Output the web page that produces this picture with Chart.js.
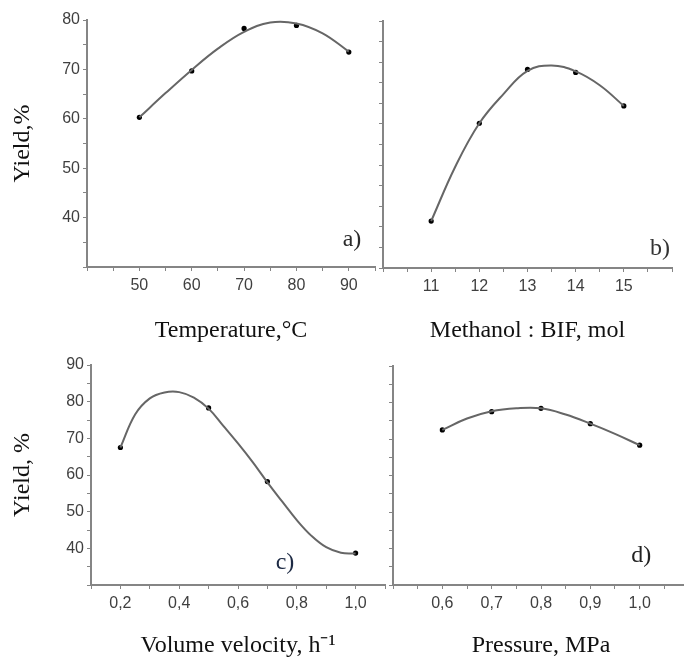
<!DOCTYPE html>
<html>
<head>
<meta charset="utf-8">
<script src="https://cdn.jsdelivr.net/npm/chart.js@4.4.1/dist/chart.umd.min.js"></script>
<style>
  html,body{margin:0;padding:0;background:#fff;}
  body{width:684px;height:660px;overflow:hidden;position:relative;}
  canvas{position:absolute;}
</style>
</head>
<body>
<canvas id="chA" width="380" height="345" style="left:0;top:0"></canvas>
<canvas id="chB" width="314" height="345" style="left:370px;top:0"></canvas>
<canvas id="chC" width="390" height="340" style="left:0;top:320px"></canvas>
<canvas id="chD" width="320" height="340" style="left:380px;top:320px"></canvas>
<script>
// a) temperature
const tempX = [50, 60, 70, 80, 90];
const tempYield = [60.3, 69.7, 78.3, 78.9, 73.5];
const tempFitX = [50, 55, 60, 65, 70, 75, 80, 85, 90];
const tempFitY = [60.3, 65.2, 69.9, 74.2, 77.6, 79.5, 79.3, 77.3, 73.6];
const tempTickLabels = ['50', '60', '70', '80', '90'];

// b) methanol : BIF
const ratioX = [11, 12, 13, 14, 15];
const ratioYield = [39.5, 59.3, 70.2, 69.6, 62.8];
const ratioFitX = [11, 11.5, 12, 12.5, 13, 13.5, 14, 14.5, 15];
const ratioFitY = [39.5, 50.5, 59.3, 65.2, 69.9, 71.0, 69.8, 67.0, 62.8];
const ratioTickLabels = ['11', '12', '13', '14', '15'];

// c) volume velocity
const velX = [0.2, 0.5, 0.7, 1.0];
const velYield = [67.5, 78.3, 58.2, 38.7];
const velFitX = [0.2, 0.25, 0.3, 0.35, 0.4, 0.45, 0.5, 0.55, 0.6, 0.65, 0.7, 0.75, 0.8, 0.85, 0.9, 0.95, 1.0];
const velFitY = [67.5, 76.5, 80.9, 82.5, 82.6, 81.1, 78.1, 73.4, 68.6, 63.5, 58.0, 52.8, 47.7, 43.4, 40.3, 38.8, 38.6];
const velTickValues = [0.2, 0.4, 0.6, 0.8, 1.0];
const velTickLabels = ['0,2', '0,4', '0,6', '0,8', '1,0'];

// d) pressure
const presX = [0.6, 0.7, 0.8, 0.9, 1.0];
const presYield = [72.5, 77.5, 78.4, 74.2, 68.3];
const presFitX = [0.6, 0.65, 0.7, 0.75, 0.8, 0.85, 0.9, 0.95, 1.0];
const presFitY = [72.5, 75.6, 77.6, 78.4, 78.4, 76.7, 74.2, 71.4, 68.3];
const presTickLabels = ['0,6', '0,7', '0,8', '0,9', '1,0'];

const yTicksTop = [40, 50, 60, 70, 80];
const yTicksBottom = [40, 50, 60, 70, 80, 90];

const AXIS = '#858585';
const tickFont = { family: '"Liberation Sans", Arial, sans-serif', size: 16 };
const titleFont = { family: '"Liberation Serif", "Times New Roman", serif', size: 24 };

const pts = (xs, ys) => xs.map((x, i) => ({ x, y: ys[i] }));

const panelTag = {
  id: 'panelTag',
  afterDraw(chart, args, o) {
    const { ctx, scales } = chart;
    ctx.save();
    ctx.font = '24px "Liberation Serif", serif';
    ctx.fillStyle = o.color || '#222';
    ctx.textAlign = 'center'; ctx.textBaseline = 'middle';
    ctx.fillText(o.text, scales.x.getPixelForValue(o.x), scales.y.getPixelForValue(o.y));
    ctx.restore();
  }
};

function mkTicks(min, max, n) {
  const out = [];
  for (let i = 0; i <= n; i++) out.push({ value: Math.round((min + (max - min) * i / n) * 10000) / 10000 });
  return out;
}
function labelFor(values, labels) {
  return v => { const i = values.findIndex(t => Math.abs(t - v) < 1e-6); return i < 0 ? '' : labels[i]; };
}

function panel(id, p) {
  new Chart(document.getElementById(id), {
    type: 'scatter',
    data: { datasets: [
      { data: pts(p.fitX, p.fitY), showLine: true, tension: 0.4, borderColor: '#666', borderWidth: 2, pointRadius: 0 },
      { data: pts(p.x, p.y), showLine: false, pointRadius: 2.6, backgroundColor: '#000', borderColor: '#000', borderWidth: 0 }
    ]},
    options: {
      responsive: false, animation: false, events: [],
      layout: { padding: p.pad },
      plugins: { legend: { display: false }, tooltip: { enabled: false }, panelTag: p.tag },
      scales: {
        x: {
          type: 'linear', min: p.xMin, max: p.xMax,
          afterBuildTicks: s => { s.ticks = mkTicks(p.xMin, p.xMax, p.xN); },
          afterFit: s => { s.height = p.xH; s.paddingLeft = 0; s.paddingRight = 0; },
          border: { color: AXIS, width: 2 },
          grid: { drawOnChartArea: false, drawTicks: true, tickLength: 4, tickColor: AXIS },
          ticks: { autoSkip: false, maxRotation: 0, padding: 5, font: tickFont, color: '#3f3f3f', callback: labelFor(p.xTickV, p.xTickL) },
          title: { display: true, text: p.xTitle, font: titleFont, color: '#111', padding: { top: 0, bottom: 0 } }
        },
        y: {
          type: 'linear', min: p.yMin, max: p.yMax,
          afterBuildTicks: s => { s.ticks = mkTicks(p.yMin, p.yMax, p.yN); },
          afterFit: s => { s.width = p.yW; s.paddingTop = 0; s.paddingBottom = 0; },
          border: { color: AXIS, width: 2 },
          grid: { drawOnChartArea: false, drawTicks: true, tickLength: 4, tickColor: AXIS },
          ticks: { autoSkip: false, padding: 3, font: tickFont, color: '#3f3f3f', callback: labelFor(p.yTickV, p.yTickL) },
          title: { display: !!p.yTitle, text: p.yTitle || '', font: titleFont, color: '#111', padding: { top: 8, bottom: 0 } }
        }
      }
    },
    plugins: [panelTag]
  });
}

panel('chA', {
  x: tempX, y: tempYield, fitX: tempFitX, fitY: tempFitY,
  xMin: 40, xMax: 95, xN: 11, xTickV: tempX, xTickL: tempTickLabels,
  yMin: 30, yMax: 80, yN: 10, yTickV: yTicksTop, yTickL: yTicksTop.map(String),
  xTitle: 'Temperature,°C', yTitle: 'Yield,%',
  pad: { left: 0, right: 5, top: 20, bottom: 0 }, xH: 78, yW: 87,
  tag: { text: 'a)', x: 90.6, y: 35.6, color: '#2a2a2a' }
});
panel('chB', {
  x: ratioX, y: ratioYield, fitX: ratioFitX, fitY: ratioFitY,
  xMin: 10, xMax: 16, xN: 12, xTickV: ratioX, xTickL: ratioTickLabels,
  yMin: 30, yMax: 80, yN: 12, yTickV: [], yTickL: [],
  xTitle: 'Methanol : BIF, mol', yTitle: '',
  pad: { left: 0, right: 12, top: 21, bottom: 0 }, xH: 77, yW: 13,
  tag: { text: 'b)', x: 15.75, y: 34, color: '#333' }
});
panel('chC', {
  x: velX, y: velYield, fitX: velFitX, fitY: velFitY,
  xMin: 0.1, xMax: 1.1, xN: 10, xTickV: velTickValues, xTickL: velTickLabels,
  yMin: 30, yMax: 90, yN: 12, yTickV: yTicksBottom, yTickL: yTicksBottom.map(String),
  xTitle: 'Volume velocity, h⁻¹', yTitle: 'Yield, %',
  pad: { left: 0, right: 5, top: 45, bottom: 0 }, xH: 75, yW: 91,
  tag: { text: 'c)', x: 0.76, y: 36, color: '#1d2a44' }
});
panel('chD', {
  x: presX, y: presYield, fitX: presFitX, fitY: presFitY,
  xMin: 0.5, xMax: 1.1, xN: 12, xTickV: presX, xTickL: presTickLabels,
  yMin: 30, yMax: 90, yN: 12, yTickV: [], yTickL: [],
  xTitle: 'Pressure, MPa', yTitle: '',
  pad: { left: 0, right: 11, top: 46, bottom: 0 }, xH: 75, yW: 13,
  tag: { text: 'd)', x: 1.003, y: 37.9, color: '#222' }
});
</script>
</body>
</html>
